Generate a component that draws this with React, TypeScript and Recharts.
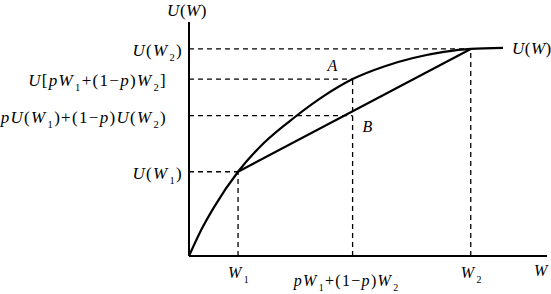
import React from "react";
import { LineChart, Line, XAxis, YAxis, ReferenceLine, ReferenceDot } from "recharts";

// expected utility diagram (concave U(W)), units are arbitrary 0..100 on both axes
const curveW = [0, 3.4, 7.0, 13.7, 20.9, 29.6, 37.7, 45.7, 54.5, 62.6, 71.2, 78.7, 87.7];
const curveU = [0, 11.1, 20.9, 36, 48.3, 59.4, 68.4, 75.6, 81.0, 84.6, 87.2, 88.5, 88.9];

const wTicks = [13.7, 45.7, 78.7]; // W1, pW1+(1-p)W2, W2
const wLabels = ["W_1", "pW_1+(1−p)W_2", "W_2"];
const uTicks = [36, 60, 75.6, 88.5]; // U(W1), pU(W1)+(1-p)U(W2), U[pW1+(1-p)W2], U(W2)
const uLabels = ["U(W_1)", "pU(W_1)+(1−p)U(W_2)", "U[pW_1+(1−p)W_2]", "U(W_2)"];

const curveData = curveW.map((w, i) => ({ w, u: curveU[i] }));
const chordData = [
  { w: wTicks[0], u: uTicks[0] },
  { w: wTicks[2], u: uTicks[3] },
];

const FONT = "'Liberation Serif', 'Times New Roman', serif";
const DASH = "5 4";

// letters italic, everything else upright, "_x" makes x a subscript
function RichText({ text, x, y, anchor = "start", size = 17, spacing = 1.3 }: any) {
  const parts: React.ReactNode[] = [];
  let shifted = false;
  const sub = size * 0.3;
  for (let i = 0; i < text.length; i++) {
    let ch = text[i];
    let isSub = false;
    if (ch === "_") {
      isSub = true;
      ch = text[++i];
    }
    const italic = /[A-Za-z]/.test(ch);
    let dy = 0;
    if (isSub && !shifted) {
      dy = sub;
      shifted = true;
    } else if (!isSub && shifted) {
      dy = -sub;
      shifted = false;
    }
    parts.push(
      <tspan
        key={i}
        dy={dy || undefined}
        dx={isSub ? 1 : undefined}
        fontSize={isSub ? size * 0.62 : size}
        fontStyle={italic ? "italic" : "normal"}
      >
        {ch}
      </tspan>
    );
  }
  return (
    <text
      x={x}
      y={y}
      textAnchor={anchor}
      fontFamily={FONT}
      fontSize={size}
      letterSpacing={spacing}
      fill="#000"
    >
      {parts}
    </text>
  );
}

function YTick({ x, y, payload }: any) {
  const i = uTicks.indexOf(payload.value);
  const long = i === 1 || i === 2;
  return <RichText text={uLabels[i] ?? ""} x={x - (long ? 16 : 0)} y={y + 7} anchor="end" />;
}

function XTick({ x, y, payload }: any) {
  const i = wTicks.indexOf(payload.value);
  const mid = i === 1;
  return (
    <RichText
      text={wLabels[i] ?? ""}
      x={x + (mid ? -6 : 1)}
      y={y + (mid ? 28 : 20)}
      anchor="middle"
      size={16}
    />
  );
}

const anchorLabel = (text: string, dx: number, dy: number, anchor: string, size = 17) => (props: any) => {
  const vb = props.viewBox || { x: 0, y: 0, width: 0, height: 0 };
  const cx = vb.x + (vb.width || 0) / 2;
  const cy = vb.y + (vb.height || 0) / 2;
  return <RichText text={text} x={cx + dx} y={cy + dy} anchor={anchor} size={size} spacing={0.5} />;
};

export default function App() {
  const [W1, WM, W2] = wTicks;
  const [U1, EU, UM, U2] = uTicks;
  const dashed = { stroke: "#000", strokeWidth: 1.3, strokeDasharray: DASH };
  return (
    <div style={{ position: "absolute", left: 0, top: 0, width: 551, height: 294, background: "#fff" }}>
      <LineChart width={551} height={294} margin={{ top: 22, right: 4, bottom: 0, left: 0 }}>
        <XAxis
          type="number"
          dataKey="w"
          domain={[0, 100]}
          ticks={wTicks}
          interval={0}
          tick={<XTick />}
          tickLine={false}
          tickSize={0}
          height={38}
          allowDataOverflow
          axisLine={{ stroke: "#000", strokeWidth: 2 }}
        />
        <YAxis
          type="number"
          dataKey="u"
          domain={[0, 100]}
          ticks={uTicks}
          interval={0}
          tick={<YTick />}
          tickLine={false}
          tickSize={0}
          tickMargin={6}
          width={189}
          allowDataOverflow
          axisLine={{ stroke: "#000", strokeWidth: 2 }}
        />

        <ReferenceLine segment={[{ x: 0, y: U2 }, { x: W2, y: U2 }]} {...dashed} />
        <ReferenceLine segment={[{ x: 0, y: UM }, { x: WM, y: UM }]} {...dashed} />
        <ReferenceLine segment={[{ x: 0, y: EU }, { x: WM, y: EU }]} {...dashed} />
        <ReferenceLine segment={[{ x: 0, y: U1 }, { x: W1, y: U1 }]} {...dashed} />
        <ReferenceLine segment={[{ x: W1, y: 0 }, { x: W1, y: U1 }]} {...dashed} />
        <ReferenceLine segment={[{ x: WM, y: 0 }, { x: WM, y: UM }]} {...dashed} />
        <ReferenceLine segment={[{ x: W2, y: 0 }, { x: W2, y: U2 }]} {...dashed} />

        <Line
          data={curveData}
          dataKey="u"
          type="monotone"
          stroke="#000"
          strokeWidth={2.2}
          dot={false}
          activeDot={false}
          isAnimationActive={false}
        />
        <Line
          data={chordData}
          dataKey="u"
          type="linear"
          stroke="#000"
          strokeWidth={2.2}
          dot={false}
          activeDot={false}
          isAnimationActive={false}
        />

        <ReferenceDot x={0} y={100} r={0} fill="none" stroke="none" label={anchorLabel("U(W)", -2, -6, "middle")} />
        <ReferenceDot x={100} y={0} r={0} fill="none" stroke="none" label={anchorLabel("W", -6, 20, "middle", 16)} />
        <ReferenceDot
          x={curveW[curveW.length - 1]}
          y={curveU[curveU.length - 1]}
          r={0}
          fill="none"
          stroke="none"
          label={anchorLabel("U(W)", 9, 6, "start")}
        />
        <ReferenceDot x={WM} y={UM} r={0} fill="none" stroke="none" label={anchorLabel("A", -20, -8, "middle", 16)} />
        <ReferenceDot x={WM} y={EU} r={0} fill="none" stroke="none" label={anchorLabel("B", 15, 16, "middle", 16)} />
      </LineChart>
    </div>
  );
}
